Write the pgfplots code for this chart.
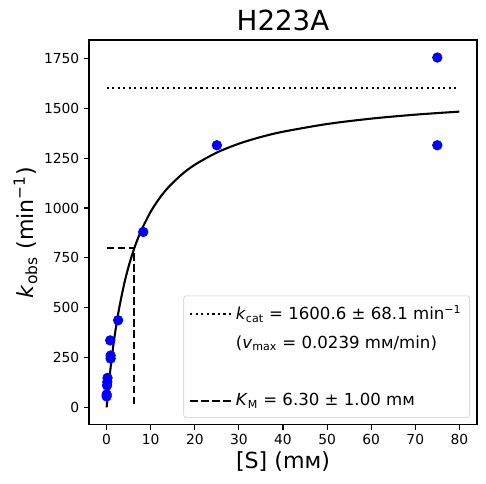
\documentclass[border=0pt]{standalone}
\usepackage{fontspec}
\setmainfont{DejaVu Sans}
\usepackage{pgfplots}
\pgfplotsset{compat=1.18}
\newcommand{\mM}{m\symbol{"1D0D}}
\begin{document}
\begin{tikzpicture}
\begin{axis}[
  scale only axis,
  width=279.4bp, height=277.2bp,
  xmin=-4, xmax=84, ymin=-88, ymax=1843,
  xtick={0,10,...,80},
  ytick={0,250,...,1750},
  tick align=outside,
  xtick pos=left, ytick pos=left,
  major tick length=3.5bp,
  every tick/.style={black, line width=0.8bp},
  axis line style={line width=0.8bp},
  /pgf/number format/assume math mode=true,
  /pgf/number format/1000 sep={},
  tick label style={font=\fontsize{10}{12}\selectfont},
  xlabel={[S] (\mM)},
  ylabel={\textit{k}\textsubscript{obs} (min\textsuperscript{−1})},
  label style={font=\fontsize{16}{19}\selectfont},
  xlabel style={yshift=2bp},
  ylabel style={yshift=-2bp},
  title={H223A},
  title style={font=\fontsize{20}{24}\selectfont, yshift=-3bp},
  legend cell align=left,
  legend style={at={(1,0)}, anchor=south east, xshift=-5bp, yshift=5bp,
    font=\fontsize{12}{14}\selectfont, draw=black!20, rounded corners=2bp,
    fill=white, fill opacity=0.8, text opacity=1,
    inner xsep=4bp, inner ysep=5bp, row sep=6bp},
  legend image code/.code={\draw[#1] (0bp,0bp) -- (21.6bp,0bp); \path (0bp,0bp) -- (30bp,0bp);},
  clip=false,
]
\addplot[forget plot, black, line width=1.5bp, smooth] coordinates {
(0,0) (0.1,25.0) (0.25,61.1) (0.5,117.7) (0.75,170.3) (1,219.3) (1.5,307.8)
(2,385.7) (2.5,454.7) (3,516.3) (4,621.6) (5,708.2) (6,780.8) (7,842.4)
(8,895.4) (10,982.0) (12,1049.6) (14,1103.9) (17,1167.8) (20,1217.2)
(25,1278.4) (30,1322.8) (35,1356.4) (40,1382.8) (50,1421.5) (60,1448.5)
(70,1468.4) (80,1483.7)};
\addplot[forget plot, only marks, mark=*, mark size=3.5bp, color=blue, mark options={draw=blue, fill=blue}] coordinates {
(0.0,55) (0.0,65) (0.1,110) (0.15,128) (0.2,148) (0.9,245) (0.9,260) (0.8,336)
(2.6,437) (8.3,880) (25,1315) (75,1315) (75,1755)};
\addplot[forget plot, black, line width=1.5bp, dash pattern=on 1.5bp off 2.475bp] coordinates {(0,1600.6) (80,1600.6)};
\addplot[forget plot, black, line width=1.5bp, dash pattern=on 5.55bp off 2.4bp] coordinates {(0,800.3) (6.3,800.3) (6.3,0)};
\addlegendimage{black, line width=1.5bp, dash pattern=on 1.5bp off 2.475bp}
\addlegendentry{\textit{k}\textsubscript{cat} = 1600.6 ± 68.1 min\textsuperscript{−1}}
\addlegendimage{empty legend}
\addlegendentry{(\textit{v}\textsubscript{max} = 0.0239 \mM/min)}
\addlegendimage{empty legend}
\addlegendentry{\strut}
\addlegendimage{black, line width=1.5bp, dash pattern=on 5.55bp off 2.4bp}
\addlegendentry{\textit{K}\textsubscript{M} = 6.30 ± 1.00 \mM}
\end{axis}
\useasboundingbox ([shift={(-64.1bp,-42.5bp)}]current axis.south west) rectangle ([shift={(6.5bp,28.8bp)}]current axis.north east);
\end{tikzpicture}
\end{document}
